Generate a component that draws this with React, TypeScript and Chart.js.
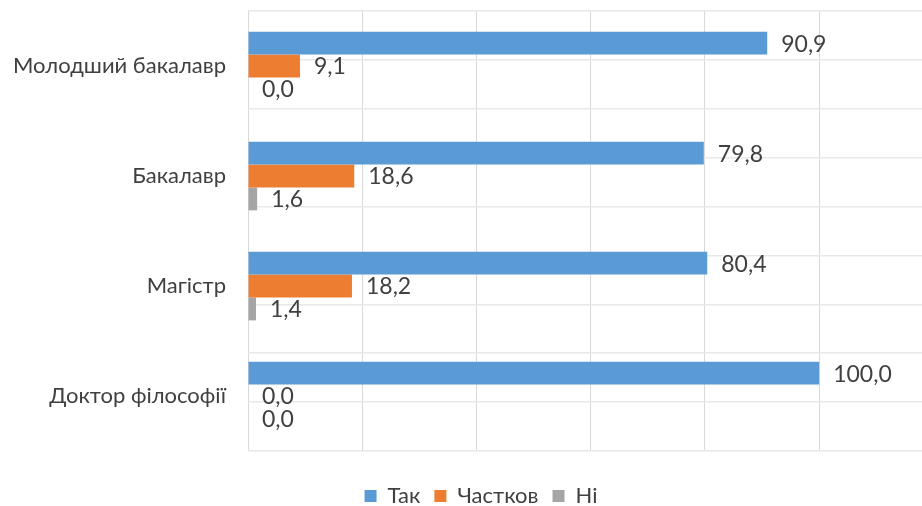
import React, { useEffect, useRef } from "react";
import { Chart, registerables } from "chart.js";

Chart.register(...registerables);

const categories = ["Молодший бакалавр", "Бакалавр", "Магістр", "Доктор філософії"];
const seriesNames = ["Так", "Частков", "Ні"];
const takValues = [90.9, 79.8, 80.4, 100.0];
const chastkovValues = [9.1, 18.6, 18.2, 0.0];
const niValues = [0.0, 1.6, 1.4, 0.0];
const xTickValues = [0, 20, 40, 60, 80, 100];

const FONT = "Lato";
const TEXT = "#404040";

const valueLabels = {
  id: "valueLabels",
  afterDatasetsDraw(chart: any) {
    const ctx = chart.ctx;
    ctx.save();
    ctx.font = `23px ${FONT}`;
    ctx.fillStyle = TEXT;
    ctx.textAlign = "left";
    ctx.textBaseline = "middle";
    chart.data.datasets.forEach((ds: any, i: number) => {
      const meta = chart.getDatasetMeta(i);
      if (meta.hidden) return;
      meta.data.forEach((el: any, j: number) => {
        const v = ds.data[j] as number;
        const txt = v.toFixed(1).replace(".", ",");
        ctx.fillText(txt, el.x + 14, el.y + 1);
      });
    });
    ctx.restore();
  },
};

// the reference legend sits a little right of the page centre
const legendShift = {
  id: "legendShift",
  afterLayout(chart: any) {
    if (chart.legend) chart.legend.left += 40;
  },
};

export default function App() {
  const ref = useRef<HTMLCanvasElement>(null);
  useEffect(() => {
    if (!ref.current) return;
    const chart = new Chart(ref.current, {
      type: "bar",
      data: {
        labels: categories,
        datasets: [
          { label: seriesNames[0], data: takValues, backgroundColor: "#5B9BD5" },
          { label: seriesNames[1], data: chastkovValues, backgroundColor: "#ED7D31" },
          { label: seriesNames[2], data: niValues, backgroundColor: "#A5A5A5" },
        ],
      },
      options: {
        indexAxis: "y",
        animation: false,
        responsive: true,
        maintainAspectRatio: false,
        layout: { padding: { top: 11, right: 0, left: 0, bottom: -11 } },
        datasets: { bar: { barPercentage: 1, categoryPercentage: 0.625 } },
        plugins: {
          tooltip: { enabled: false },
          legend: {
            position: "bottom",
            labels: {
              font: { family: FONT, size: 22 },
              color: TEXT,
              boxWidth: 12,
              boxHeight: 12,
              padding: 14,
            },
          },
        },
        scales: {
          x: {
            type: "linear",
            min: 0,
            max: 118,
            afterBuildTicks: (scale: any) => {
              scale.ticks = xTickValues.map((v) => ({ value: v }));
            },
            afterFit: (scale: any) => {
              scale.height = 20;
              scale.paddingLeft = 0;
              scale.paddingRight = 0;
            },
            ticks: { display: false },
            grid: { color: "#d9d9d9", drawTicks: false, lineWidth: 1 },
            border: { display: false },
          },
          y: {
            type: "category",
            afterFit: (scale: any) => {
              scale.width = 248;
              scale.paddingTop = 0;
              scale.paddingBottom = 0;
            },
            ticks: {
              font: { family: FONT, size: 22 },
              color: TEXT,
              padding: 22,
            },
            grid: { display: false, drawTicks: false },
            border: { display: false },
          },
          y2: {
            type: "linear",
            position: "left",
            min: 0,
            max: 8,
            afterFit: (scale: any) => {
              scale.width = 0;
              scale.paddingTop = 0;
              scale.paddingBottom = 0;
            },
            ticks: { display: false, stepSize: 1 },
            grid: { color: "#e8e8e8", drawTicks: false, lineWidth: 1.5 },
            border: { display: false },
          },
        },
      } as any,
      plugins: [valueLabels, legendShift],
    });
    return () => chart.destroy();
  }, []);
  return (
    <div style={{ position: "absolute", left: 0, top: 0, width: 922, height: 506, background: "#fff" }}>
      <canvas ref={ref} />
    </div>
  );
}
